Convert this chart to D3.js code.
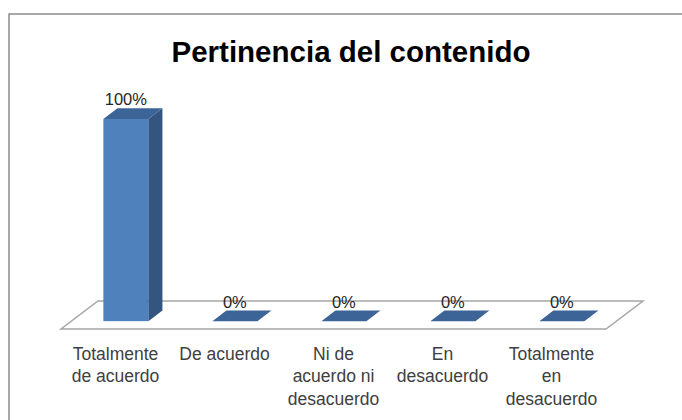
<!DOCTYPE html>
<html>
<head>
<meta charset="utf-8">
<script src="https://cdn.jsdelivr.net/npm/d3@7"></script>
<style>
  body { margin: 0; background: #fff; }
  svg { display: block; font-family: "Liberation Sans", Arial, sans-serif; }
</style>
</head>
<body>
<div id="chart"></div>
<script>
// data
var categories = ["TA", "DA", "NN", "ED", "TD"];
var tickLabels = [
    ["Totalmente", "de acuerdo"],
    ["De acuerdo"],
    ["Ni de", "acuerdo ni", "desacuerdo"],
    ["En", "desacuerdo"],
    ["Totalmente", "en", "desacuerdo"]
];
var values = [1, 0, 0, 0, 0];
var valueLabels = ["100%", "0%", "0%", "0%", "0%"];

var width = 682, height = 420;

var svg = d3.select("#chart")
            .append("svg")
            .attr("width", width)
            .attr("height", height);

// chart frame, runs off the right and bottom edge
svg.append("path")
   .attr("d", "M9,430 L9,14 L690,14")
   .attr("fill", "none")
   .attr("stroke", "#8c8c8c")
   .attr("stroke-width", 1.5);

svg.append("text")
   .attr("x", 351)
   .attr("y", 62)
   .attr("text-anchor", "middle")
   .attr("font-size", "29.5px")
   .attr("font-weight", "bold")
   .attr("fill", "#000")
   .text("Pertinencia del contenido");

// floor: front edge y and depth offset of the 3d floor
var floorY = 329;
var depth = { dx: 37, dy: -28 };
var barFrac = 0.28;     // where the bar front sits inside the floor depth
var barDepth = 0.38;    // bar depth as part of the floor depth
var barW = 45;

var xScale = d3.scaleBand()
               .domain(categories)
               .range([61, 606])
               .padding(0);

var yScale = d3.scaleLinear()
               .domain([0, 1])
               .range([floorY + barFrac * depth.dy, 119]);

var x0 = xScale.range()[0], x1 = xScale.range()[1];
svg.append("polygon")
   .attr("points", [
       [x0, floorY], [x1, floorY],
       [x1 + depth.dx, floorY + depth.dy], [x0 + depth.dx, floorY + depth.dy]
   ].join(" "))
   .attr("fill", "#fff")
   .attr("stroke", "#a6a6a6")
   .attr("stroke-width", 1.5);

var bdx = depth.dx * barDepth, bdy = depth.dy * barDepth;
var barLeft = c => xScale(c) + (xScale.bandwidth() - barW) / 2 + barFrac * depth.dx;

var bars = svg.append("g")
              .selectAll("g")
              .data(categories.map((c, i) => ({ c: c, v: values[i], label: valueLabels[i] })))
              .enter()
              .append("g");

// front face
bars.append("rect")
    .attr("x", d => barLeft(d.c))
    .attr("y", d => yScale(d.v))
    .attr("width", barW)
    .attr("height", d => yScale(0) - yScale(d.v))
    .attr("fill", "#4f81bd");

// side face
bars.append("polygon")
    .attr("points", d => {
        var x = barLeft(d.c) + barW, yt = yScale(d.v), yb = yScale(0);
        return [[x, yb], [x, yt], [x + bdx, yt + bdy], [x + bdx, yb + bdy]].join(" ");
    })
    .attr("fill", "#34557f");

// top face
bars.append("polygon")
    .attr("points", d => {
        var x = barLeft(d.c), yt = yScale(d.v);
        return [[x, yt], [x + barW, yt], [x + barW + bdx, yt + bdy], [x + bdx, yt + bdy]].join(" ");
    })
    .attr("fill", "#3d6496");

bars.append("text")
    .attr("x", d => barLeft(d.c) + barW / 2)
    .attr("y", d => yScale(d.v) + bdy - 3)
    .attr("text-anchor", "middle")
    .attr("font-size", "16.5px")
    .attr("fill", "#262626")
    .text(d => d.label);

// category axis under the floor
var axis = svg.append("g")
              .attr("transform", `translate(0, ${floorY})`)
              .call(d3.axisBottom(xScale).tickSize(0).tickFormat(""));
axis.select(".domain").remove();

axis.selectAll(".tick text")
    .each(function(d, i) {
        var t = d3.select(this)
                  .attr("y", 31)
                  .attr("dy", null)
                  .attr("font-size", "17.5px")
                  .attr("font-family", "Liberation Sans, Arial, sans-serif")
                  .attr("fill", "#404040");
        tickLabels[i].forEach((line, k) => {
            t.append("tspan")
             .attr("x", 0)
             .attr("y", 31 + k * 22.3)
             .text(line);
        });
    });
</script>
</body>
</html>
